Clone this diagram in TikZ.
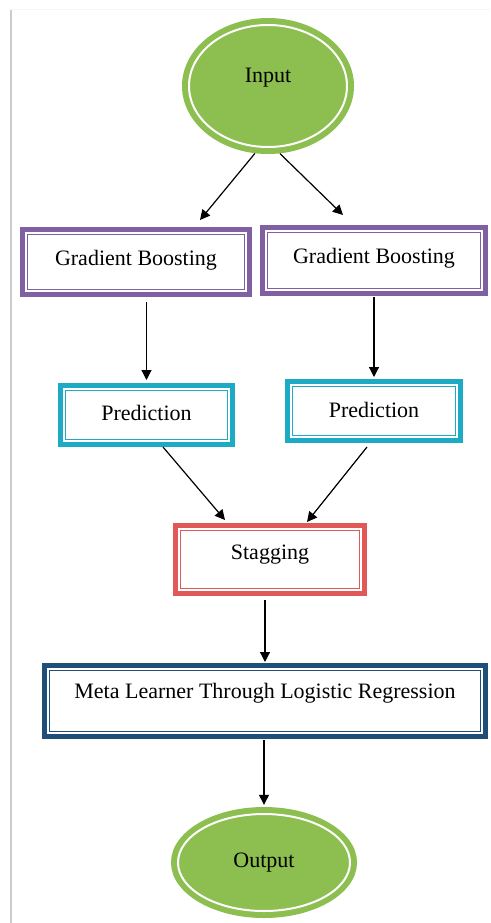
\documentclass[tikz,border=0pt]{standalone}
\usepackage{fontspec}
\setmainfont{Liberation Serif}
\usetikzlibrary{arrows.meta,shapes.geometric}
\definecolor{cgreen}{RGB}{140,190,80}
\definecolor{cpurple}{RGB}{128,96,162}
\definecolor{ccyan}{RGB}{28,170,196}
\definecolor{cred}{RGB}{224,88,88}
\definecolor{cblue}{RGB}{31,78,121}
\newcommand\innerframe[2]{\draw[#2, line width=1.3pt] ([shift={(7.5pt,-7.5pt)}]#1.north west) rectangle ([shift={(-7.5pt,7.5pt)}]#1.south east);}
\begin{document}
\begin{tikzpicture}[x=1pt,y=-1pt,
  box/.style={rectangle, draw=#1, line width=5pt, fill=white, inner sep=0pt,
    text height=0pt, text depth=0pt, font=\fontsize{22}{26}\selectfont},
  oval/.style={ellipse, fill=cgreen, draw=none, inner sep=0pt,
    text height=0pt, text depth=0pt, font=\fontsize{22}{26}\selectfont},
  arr/.style={-{Triangle[length=10pt,width=10pt]}, line width=1.2pt, black}
]
\fill[white] (0,0) rectangle (490,923);
\useasboundingbox (0,0) rectangle (490,923);
\draw[gray!40, line width=1.5pt] (11,10) -- (11,923);
\draw[gray!8, line width=1pt] (11,10) -- (490,10);

\node[oval, minimum width=172pt, minimum height=136pt] (in) at (268,86) {\raisebox{3pt}{Input}};
\draw[white, line width=2pt] (in.center) ellipse [x radius=79pt, y radius=61pt];

\node[box=cpurple, minimum width=227pt, minimum height=65pt] (gb1) at (136,262) {\raisebox{-3pt}{Gradient Boosting}};
\innerframe{gb1}{cpurple}
\node[box=cpurple, minimum width=223pt, minimum height=66pt] (gb2) at (374,260.5) {\raisebox{-2.5pt}{Gradient Boosting}};
\innerframe{gb2}{cpurple}
\node[box=ccyan, minimum width=172pt, minimum height=59pt] (pr1) at (146.5,415) {\raisebox{-5pt}{Prediction}};
\innerframe{pr1}{ccyan}
\node[box=ccyan, minimum width=173pt, minimum height=59pt] (pr2) at (374,411) {\raisebox{-6pt}{Prediction}};
\innerframe{pr2}{ccyan}
\node[box=cred, minimum width=189pt, minimum height=68pt] (st) at (270,559.5) {Stagging};
\innerframe{st}{cred}
\node[box=cblue, minimum width=441pt, minimum height=71pt] (me) at (265,701) {\raisebox{3pt}{Meta Learner Through Logistic Regression}};
\innerframe{me}{cblue}

\node[oval, minimum width=186pt, minimum height=111pt] (out) at (264,862.5) {\raisebox{-4.5pt}{Output}};
\draw[white, line width=2pt] (out.center) ellipse [x radius=86pt, y radius=48.5pt];

\draw[arr] (in.259) -- ([xshift=64pt,yshift=7pt]gb1.north);
\draw[arr] (in.280) -- ([xshift=-31pt,yshift=10pt]gb2.north);
\draw[arr, shorten <=5pt, shorten >=3pt] (pr1.north |- gb1.south) -- (pr1.north);
\draw[arr, shorten <=1pt, shorten >=2pt] (pr2.north |- gb2.south) -- (pr2.north);
\draw[arr] ([xshift=16.5pt]pr1.south) -- ([xshift=-45pt,yshift=3pt]st.north);
\draw[arr] ([xshift=-7pt,yshift=-4pt]pr2.south) -- ([xshift=37pt,yshift=1pt]st.north);
\draw[arr, shorten <=4pt, shorten >=1pt] (me.north |- st.south) -- (me.north);
\draw[arr, shorten <=1pt, shorten >=2pt] (out.north |- me.south) -- (out.north);
\end{tikzpicture}
\end{document}
